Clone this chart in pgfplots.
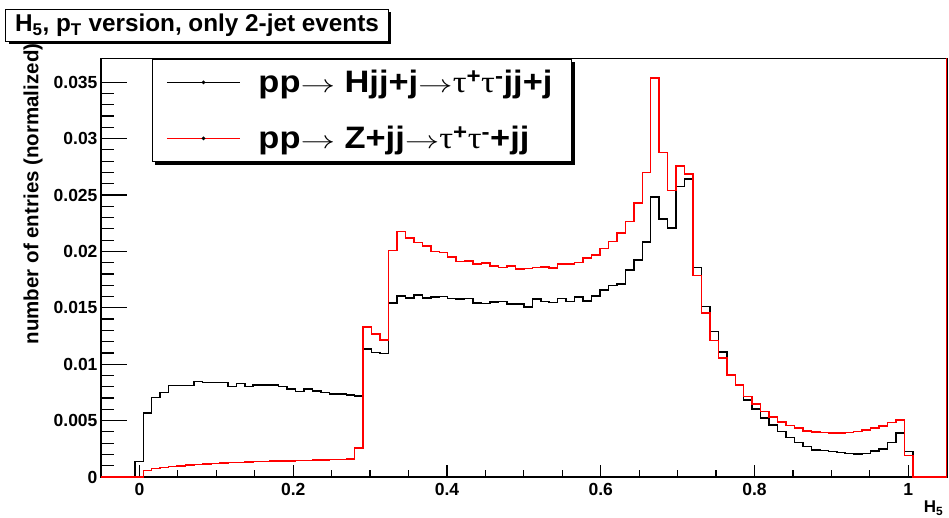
\documentclass[border=0pt]{standalone}
\usepackage{fontspec}
\setmainfont{Liberation Sans}
\newfontfamily\sym{Liberation Serif}
\usepackage{graphicx}
\usepackage{pgfplots}
\pgfplotsset{compat=1.18}
\usepackage{pgfplotstable}
\pgfdeclarelayer{background}
\pgfsetlayers{background,main}

\pgfplotstableread{
x      black    red
-0.050 0        0
-0.039 0        0
-0.028 0        0
-0.017 0        0
-0.006 0.00137  0
0.005  0.00566  0.00057
0.016  0.00704  0.00075
0.027  0.00748  0.00085
0.038  0.00810  0.00093
0.049  0.00810  0.00099
0.060  0.00810  0.00105
0.071  0.00846  0.00110
0.082  0.00837  0.00115
0.093  0.00837  0.00120
0.104  0.00837  0.00124
0.115  0.00801  0.00127
0.126  0.00828  0.00130
0.137  0.00801  0.00133
0.148  0.00814  0.00136
0.159  0.00814  0.00138
0.170  0.00814  0.00140
0.181  0.00801  0.00142
0.192  0.00778  0.00144
0.203  0.00757  0.00146
0.214  0.00778  0.00148
0.225  0.00763  0.00150
0.236  0.00748  0.00152
0.247  0.00737  0.00154
0.258  0.00737  0.00156
0.269  0.00728  0.00158
0.280  0.00719  0.00258
0.291  0.01133  0.01328
0.302  0.01103  0.01269
0.313  0.01097  0.01215
0.324  0.01541  0.02007
0.335  0.01606  0.02176
0.346  0.01585  0.02117
0.357  0.01614  0.02078
0.368  0.01585  0.02049
0.379  0.01594  0.01998
0.390  0.01600  0.01990
0.401  0.01582  0.01949
0.412  0.01576  0.01910
0.423  0.01582  0.01915
0.434  0.01541  0.01889
0.445  0.01538  0.01895
0.456  0.01550  0.01871
0.467  0.01556  0.01857
0.478  0.01535  0.01871
0.489  0.01532  0.01845
0.500  0.01505  0.01850
0.511  0.01576  0.01857
0.522  0.01556  0.01860
0.533  0.01547  0.01854
0.544  0.01582  0.01886
0.555  0.01556  0.01889
0.566  0.01594  0.01900
0.577  0.01562  0.01940
0.588  0.01606  0.01969
0.599  0.01659  0.02024
0.610  0.01697  0.02087
0.621  0.01710  0.02164
0.632  0.01836  0.02264
0.643  0.01925  0.02427
0.654  0.02081  0.02699
0.665  0.02480  0.03536
0.676  0.02288  0.02876
0.687  0.02206  0.02539
0.698  0.02574  0.02758
0.709  0.02640  0.02687
0.720  0.01855  0.01788
0.731  0.01513  0.01452
0.742  0.01289  0.01209
0.753  0.01107  0.01053
0.764  0.00905  0.00905
0.775  0.00817  0.00817
0.786  0.00684  0.00713
0.797  0.00601  0.00648
0.808  0.00522  0.00580
0.819  0.00462  0.00530
0.830  0.00402  0.00486
0.841  0.00349  0.00456
0.852  0.00308  0.00433
0.863  0.00270  0.00409
0.874  0.00240  0.00397
0.885  0.00234  0.00394
0.896  0.00225  0.00390
0.907  0.00216  0.00388
0.918  0.00210  0.00394
0.929  0.00202  0.00402
0.940  0.00210  0.00418
0.951  0.00231  0.00433
0.962  0.00246  0.00453
0.973  0.00305  0.00483
0.984  0.00388  0.00506
0.995  0.00225  0.00190
1.006  0        0
1.017  0        0
1.028  0        0
1.039  0        0
1.050  0        0
}\hist

\newcommand{\arr}{\scalebox{1.25}[1]{$\rightarrow$}}
\newcommand{\tu}{{\sym\mdseries τ}}
\newcommand{\legtxt}[1]{\makebox[297pt][l]{\scalebox{1.11}[1]{#1}}}

\begin{document}
\begin{tikzpicture}
\useasboundingbox (-101pt,-41pt) rectangle (848pt,477pt);
% title box
\fill[black] (-92.3pt,465.2pt) rectangle (289.7pt,432.8pt);
\draw[fill=white, line width=1pt] (-95pt,467.7pt) rectangle (287pt,435.3pt);
\node[font=\fontsize{24.3}{27}\selectfont\bfseries, anchor=center] at (96pt,451.5pt)
  {H\textsubscript{5}, p\textsubscript{T} version, only 2-jet events};
\begin{axis}[
  at={(0pt,0pt)}, anchor=south west,
  scale only axis, width=845.7pt, height=418.5pt,
  xmin=-0.05, xmax=1.05, ymin=0, ymax=0.0371,
  clip=false,
  axis line style={line width=1.6pt},
  tick pos=left, tick align=inside,
  xtick={0,0.2,0.4,0.6,0.8,1},
  minor x tick num=3,
  ytick={0,0.005,0.01,0.015,0.02,0.025,0.03,0.035},
  minor y tick num=4,
  major tick length=26pt, minor tick length=13pt,
  x tick style={/pgfplots/major tick length=11.7pt, /pgfplots/minor tick length=6.7pt},
  tick style={line width=1.2pt, black},
  scaled y ticks=false,
  yticklabel style={/pgf/number format/fixed, /pgf/number format/precision=3},
  xticklabel style={/pgf/number format/fixed, yshift=-3pt},
  /pgf/number format/assume math mode=true,
  tick label style={font=\fontsize{17.5}{20}\selectfont\bfseries},
  ylabel={number of entries (normalized)},
  every axis y label/.style={at={(axis description cs:-0.0804,1.044)}, rotate=90, anchor=east,
     font=\fontsize{20.5}{24}\selectfont\bfseries},
  xlabel={H\textsubscript{5}},
  every axis x label/.style={at={(axis description cs:1,0)}, anchor=base east, yshift=-36pt,
     font=\fontsize{17}{20}\selectfont\bfseries},
  legend style={name=leg, at={(rel axis cs:0.0603,0.999)}, anchor=north west, draw=black, line width=1pt,
     fill=white, font=\fontsize{31}{36}\selectfont\bfseries,
     inner xsep=14pt, inner ysep=9pt, row sep=28pt, column sep=16pt},
  legend cell align=left,
  legend image code/.code={\draw[#1, line width=1pt] (0pt,0pt) -- (73pt,0pt);
     \fill[black] (36.5pt,0pt) circle (1pt);},
]
\addplot[const plot mark left, black, line width=1.5pt] table[x=x, y=black] {\hist};
\addlegendentry{\legtxt{pp\arr{} Hjj+j\arr\tu\textsuperscript{+}\tu\textsuperscript{-}jj+j}}
\addplot[const plot mark left, red, line width=1.5pt] table[x=x, y=red] {\hist};
\addlegendentry{\legtxt{pp\arr{} Z+jj\arr\tu\textsuperscript{+}\tu\textsuperscript{-}+jj}\rule[-19pt]{0pt}{19pt}}
\draw[red, line width=1.3pt] (rel axis cs:1,0) -- (rel axis cs:1,1);
\end{axis}
\begin{pgfonlayer}{background}
\fill[black] ([shift={(3pt,-3pt)}]leg.south west) rectangle ([shift={(3pt,-3pt)}]leg.north east);
\end{pgfonlayer}
\end{tikzpicture}
\end{document}
